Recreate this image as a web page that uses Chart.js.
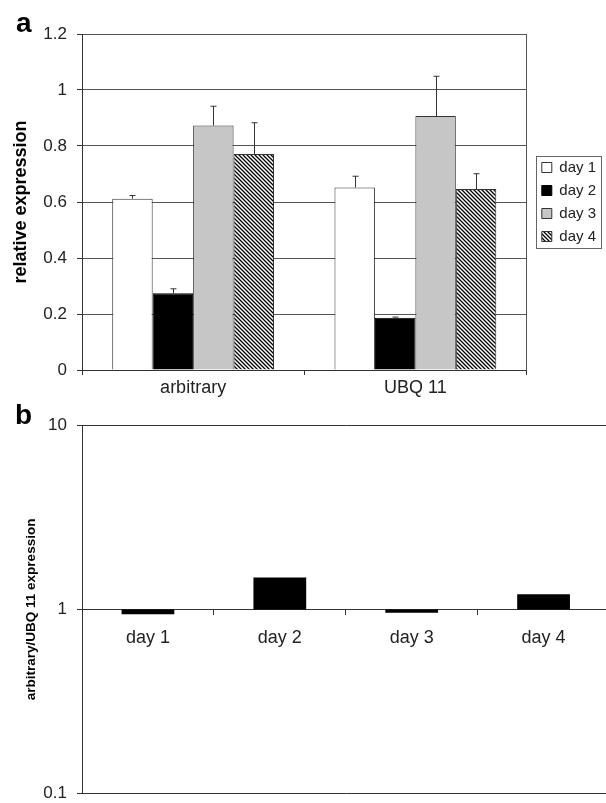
<!DOCTYPE html>
<html>
<head>
<meta charset="utf-8">
<script src="https://cdn.jsdelivr.net/npm/chart.js@4"></script>
<style>
html, body { margin: 0; padding: 0; background: #fff; overflow: hidden; }
body { width: 606px; height: 803px; position: relative; font-family: "Liberation Sans", Arial, sans-serif; }
#wrapA { position: absolute; left: 0; top: 0; }
#wrapB { position: absolute; left: 0; top: 400px; }
.panel { position: absolute; font-weight: bold; font-size: 28px; line-height: 28px; color: #000; z-index: 2; }
</style>
</head>
<body>
<div class="panel" style="left:16px;top:9px">a</div>
<div class="panel" style="left:15px;top:401px">b</div>
<div id="wrapA"><canvas id="chartA" width="606" height="400"></canvas></div>
<div id="wrapB"><canvas id="chartB" width="614" height="414"></canvas></div>
<script>
// panel a: relative expression per day, two reference genes
var groups = ['arbitrary', 'UBQ 11'];
var days = ['day 1', 'day 2', 'day 3', 'day 4'];
var day1 = [0.612, 0.652];
var day2 = [0.274, 0.187];
var day3 = [0.873, 0.907];
var day4 = [0.771, 0.646];
var day1Err = [0.011, 0.040];
var day2Err = [0.016, 0.002];
var day3Err = [0.069, 0.142];
var day4Err = [0.112, 0.055];
var yTicksA = [0, 0.2, 0.4, 0.6, 0.8, 1, 1.2];

// panel b: ratio arbitrary / UBQ 11 (log scale)
var ratio = [0.94, 1.49, 0.96, 1.21];
var yTicksB = [0.1, 1, 10];

Chart.defaults.font.family = '"Liberation Sans", Arial, sans-serif';

function hatch() {
    var c = document.createElement('canvas');
    c.width = 4; c.height = 4;
    var g = c.getContext('2d');
    g.fillStyle = '#fff';
    g.fillRect(0, 0, 4, 4);
    g.strokeStyle = '#000';
    g.lineWidth = 1.3;
    g.beginPath();
    g.moveTo(-1, -1); g.lineTo(5, 5);
    g.moveTo(-1, 3); g.lineTo(1, 5);
    g.moveTo(3, -1); g.lineTo(5, 1);
    g.stroke();
    return g.createPattern(c, 'repeat');
}

// upward error bars with a small cap
var errorBars = {
    id: 'errorBars',
    afterDatasetsDraw: function(chart) {
        var ctx = chart.ctx, y = chart.scales.y;
        chart.data.datasets.forEach(function(ds, i) {
            if (!ds.errors) return;
            chart.getDatasetMeta(i).data.forEach(function(bar, j) {
                var top = y.getPixelForValue(ds.data[j] + ds.errors[j]);
                var x = Math.round(bar.x) + 0.5;
                ctx.save();
                ctx.strokeStyle = '#333';
                ctx.lineWidth = 1;
                ctx.beginPath();
                ctx.moveTo(x, bar.y);
                ctx.lineTo(x, top);
                ctx.moveTo(x - 3, top);
                ctx.lineTo(x + 3, top);
                ctx.stroke();
                ctx.restore();
            });
        });
    }
};

// frame round the legend
var legendBox = {
    id: 'legendBox',
    afterDraw: function(chart) {
        var hb = chart.legend && chart.legend.legendHitBoxes;
        if (!hb || !hb.length) return;
        var l = Math.min.apply(null, hb.map(function(h) { return h.left; })) - 6;
        var r = Math.max.apply(null, hb.map(function(h) { return h.left + h.width; })) + 5;
        var t = Math.min.apply(null, hb.map(function(h) { return h.top; })) - 4;
        var b = Math.max.apply(null, hb.map(function(h) { return h.top + h.height; })) + 4;
        var ctx = chart.ctx;
        ctx.save();
        ctx.strokeStyle = '#666';
        ctx.lineWidth = 1;
        ctx.strokeRect(Math.round(l) + 0.5, Math.round(t) + 0.5, Math.round(r - l), Math.round(b - t));
        ctx.restore();
    }
};

new Chart(document.getElementById('chartA'), {
    type: 'bar',
    data: {
        labels: groups,
        datasets: [
            {label: days[0], data: day1, errors: day1Err, backgroundColor: '#fff', borderColor: '#333', borderWidth: 1},
            {label: days[1], data: day2, errors: day2Err, backgroundColor: '#000', borderColor: '#000', borderWidth: 1},
            {label: days[2], data: day3, errors: day3Err, backgroundColor: '#c6c6c6', borderColor: '#333', borderWidth: 1},
            {label: days[3], data: day4, errors: day4Err, backgroundColor: hatch(), borderColor: '#333', borderWidth: 1}
        ]
    },
    options: {
        responsive: false,
        animation: false,
        layout: {padding: {top: 34, right: 0, bottom: 0, left: 0}},
        datasets: {bar: {categoryPercentage: 0.728, barPercentage: 1}},
        plugins: {
            legend: {
                position: 'right',
                fullSize: false,
                labels: {boxWidth: 10, boxHeight: 10, padding: 8, color: '#222', font: {size: 15}}
            },
            tooltip: {enabled: false}
        },
        scales: {
            x: {
                grid: {drawOnChartArea: false, drawTicks: true, tickLength: 5, color: '#333'},
                border: {color: '#333'},
                ticks: {color: '#222', font: {size: 18}, padding: 2},
                afterFit: function(s) { s.height = 30; }
            },
            y: {
                min: 0,
                max: 1.2,
                afterBuildTicks: function(s) { s.ticks = yTicksA.map(function(v) { return {value: v}; }); },
                grid: {color: '#555', tickLength: 5, tickColor: '#333'},
                border: {color: '#333'},
                ticks: {callback: function(v) { return String(v); }, color: '#222', font: {size: 17}, padding: 10},
                title: {display: true, text: 'relative expression', color: '#000', font: {size: 18, weight: 'bold'}, padding: {top: 10, bottom: 0}},
                afterFit: function(s) { s.width = 82; }
            },
            y1: {
                position: 'right',
                min: 0,
                max: 1,
                ticks: {display: false},
                grid: {display: false},
                border: {display: true, color: '#555'},
                afterFit: function(s) { s.width = 7.3; }
            }
        }
    },
    plugins: [errorBars, legendBox]
});

new Chart(document.getElementById('chartB'), {
    type: 'bar',
    data: {
        labels: days,
        datasets: [{
            label: 'arbitrary/UBQ 11',
            data: ratio.map(function(v) { return [1, v]; }),
            backgroundColor: '#000',
            borderWidth: 0,
            barPercentage: 0.4,
            categoryPercentage: 1
        }]
    },
    options: {
        responsive: false,
        animation: false,
        layout: {padding: {top: 25, right: 4.5, bottom: 0, left: 0}},
        plugins: {legend: {display: false}, tooltip: {enabled: false}},
        scales: {
            x: {
                position: {y: 1},
                grid: {drawOnChartArea: false, tickLength: 5, color: '#333'},
                border: {color: '#333'},
                ticks: {color: '#222', font: {size: 18}, padding: 13}
            },
            y: {
                type: 'logarithmic',
                min: 0.1,
                max: 10,
                afterBuildTicks: function(s) { s.ticks = yTicksB.map(function(v) { return {value: v}; }); },
                ticks: {callback: function(v) { return String(v); }, color: '#222', font: {size: 17}, padding: 10},
                grid: {color: '#333', tickLength: 5},
                border: {color: '#333'},
                title: {display: true, text: 'arbitrary/UBQ 11 expression', color: '#000', font: {size: 13.5, weight: 'bold'}, padding: {top: 23, bottom: 0}},
                afterFit: function(s) { s.width = 82; }
            }
        }
    }
});
</script>
</body>
</html>
